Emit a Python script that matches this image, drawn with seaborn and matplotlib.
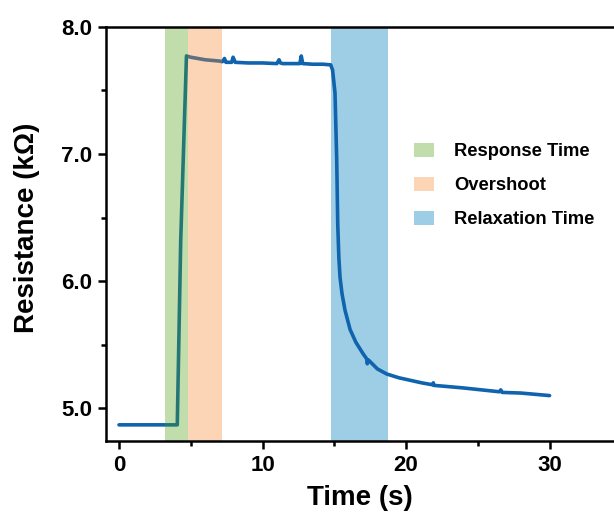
import matplotlib
matplotlib.use("Agg")
import matplotlib.pyplot as plt
from matplotlib.ticker import MultipleLocator, FormatStrFormatter
import pandas as pd
import seaborn as sns

# Sensor response: resistance (kOhm) versus time (s)
time_s = [0.0, 1.0, 2.0, 3.0, 4.06, 4.30, 4.70, 5.0, 5.5, 6.0, 6.5, 7.0,
          7.2, 7.35, 7.45, 7.6, 7.85, 7.95, 8.1, 9.0, 10.0, 11.0, 11.15,
          11.25, 11.4, 12.0, 12.6, 12.7, 12.8, 13.5, 14.2, 14.75, 14.88,
          15.05, 15.17, 15.24, 15.32, 15.40, 15.54, 15.75, 16.10, 16.50,
          17.0, 17.25, 17.3, 17.38, 18.0, 18.65, 19.5, 20.3, 21.1, 21.85,
          21.9, 21.95, 22.5, 24.0, 26.5, 26.6, 26.7, 28.0, 30.0]
resistance_kohm = [4.87, 4.87, 4.87, 4.87, 4.87, 6.32, 7.77, 7.76, 7.75, 7.74,
                   7.735, 7.73, 7.725, 7.75, 7.72, 7.72, 7.72, 7.76, 7.72,
                   7.715, 7.715, 7.71, 7.74, 7.715, 7.71, 7.71, 7.71, 7.77,
                   7.71, 7.705, 7.705, 7.70, 7.66, 7.48, 6.95, 6.45, 6.18,
                   6.03, 5.90, 5.77, 5.62, 5.52, 5.43, 5.39, 5.35, 5.38,
                   5.31, 5.27, 5.24, 5.22, 5.20, 5.185, 5.20, 5.18, 5.175,
                   5.16, 5.13, 5.145, 5.125, 5.12, 5.10]

# Shaded phases of the response (start, end in seconds)
phase_names = ["Response Time", "Overshoot", "Relaxation Time"]
phase_start = [3.2, 4.8, 14.77]
phase_end = [4.8, 7.2, 18.75]

df = pd.DataFrame({"Time (s)": time_s, "Resistance": resistance_kohm})

sns.set_style("ticks")
plt.rcParams["font.family"] = ["Liberation Sans", "DejaVu Sans"]
plt.rcParams["font.weight"] = "bold"
plt.rcParams["text.color"] = "black"
plt.rcParams["axes.labelcolor"] = "black"
plt.rcParams["xtick.color"] = "black"
plt.rcParams["ytick.color"] = "black"

W, H = 614, 520
fig = plt.figure(figsize=(W / 100, H / 100), dpi=100)
ax = fig.add_axes([106 / W, 1 - 441 / H, 1 - 106 / W, (441 - 26.7) / H])

# relaxation band sits under the trace, the other two are tinted over it
h = ax.axvspan(phase_start[2], phase_end[2], color="#9ecee6", lw=0, zorder=1,
               label=phase_names[2])
sns.lineplot(data=df, x="Time (s)", y="Resistance", ax=ax, color="#1063ad",
             lw=2.6, zorder=2, estimator=None, sort=False)
g = ax.axvspan(phase_start[0], phase_end[0], color="#4f9e12", alpha=0.35,
               lw=0, zorder=3, label=phase_names[0])
o = ax.axvspan(phase_start[1], phase_end[1], color="#f6872c", alpha=0.35,
               lw=0, zorder=3, label=phase_names[1])

ax.set_xlim(-0.906, 34.49)
ax.set_ylim(4.743, 8.0)
ax.xaxis.set_major_locator(MultipleLocator(10))
ax.xaxis.set_minor_locator(MultipleLocator(5))
ax.yaxis.set_major_locator(MultipleLocator(1.0))
ax.yaxis.set_minor_locator(MultipleLocator(0.5))
ax.yaxis.set_major_formatter(FormatStrFormatter("%.1f"))

ax.spines["right"].set_visible(False)
for side in ["left", "bottom", "top"]:
    ax.spines[side].set_linewidth(1.8)
    ax.spines[side].set_color("black")
    ax.spines[side].set_zorder(5)
ax.tick_params(which="major", direction="out", length=6, width=1.8,
               labelsize=16, pad=4, top=False, right=False,
               colors="black")
ax.tick_params(which="minor", direction="out", length=3.5, width=1.8,
               top=False, right=False, colors="black")
for lbl in ax.get_xticklabels() + ax.get_yticklabels():
    lbl.set_fontweight("bold")

ax.set_xlabel("Time (s)", fontsize=20, fontweight="bold")
ax.set_ylabel("Resistance (k\u03a9)", fontsize=20, fontweight="bold")
ax.xaxis.set_label_coords(0.5, -0.105)
ax.yaxis.set_label_coords(-0.129, 0.515)

leg = ax.legend(handles=[g, o, h], labels=phase_names, frameon=False,
                loc="upper left", bbox_to_anchor=(414 / W, 1 - 143 / H),
                bbox_transform=fig.transFigure, borderpad=0,
                borderaxespad=0, handlelength=1.09, handleheight=0.82,
                handletextpad=1.09, labelspacing=0.89,
                prop={"size": 13.2, "weight": "bold"})

fig.savefig("out.png", dpi=100)
